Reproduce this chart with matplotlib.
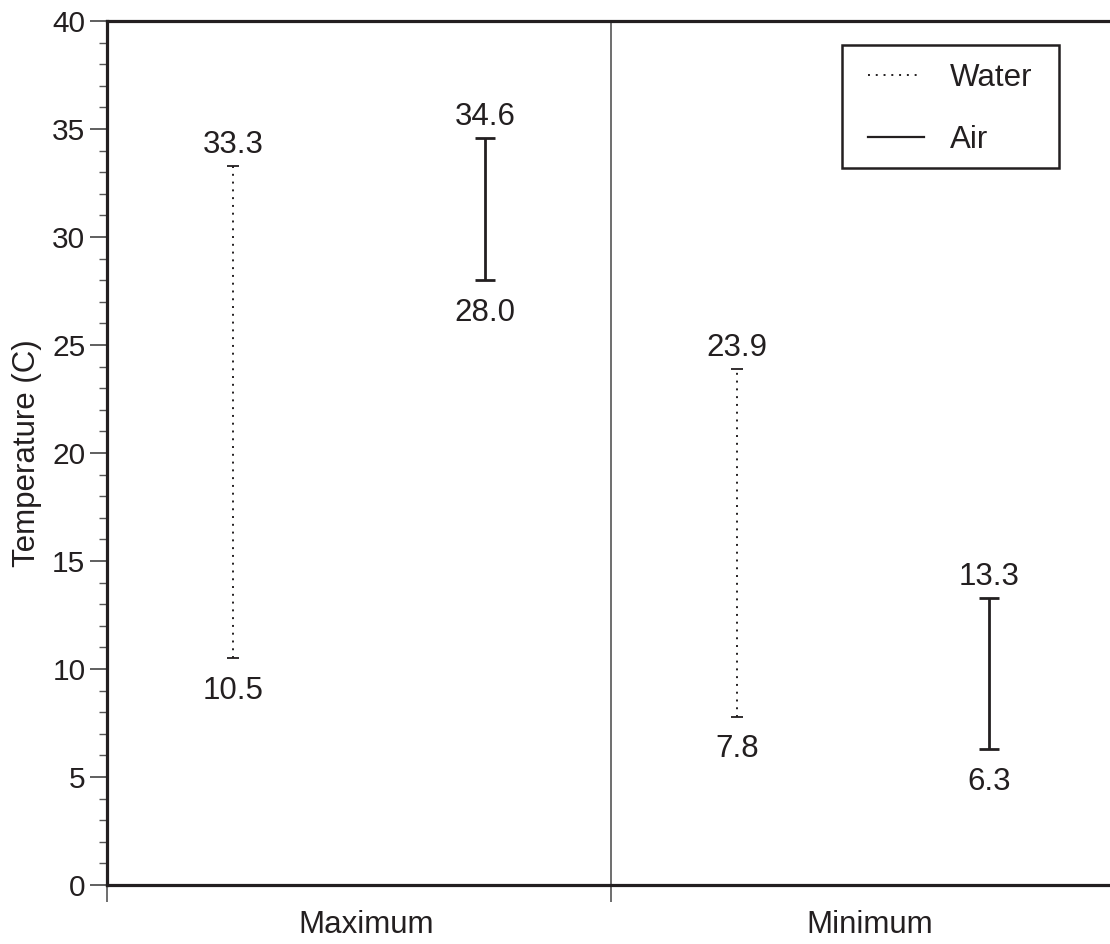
import matplotlib
matplotlib.use("Agg")
import matplotlib.pyplot as plt
from matplotlib.lines import Line2D
from matplotlib.patches import Rectangle
from matplotlib.transforms import ScaledTranslation
from matplotlib.ticker import MultipleLocator, FixedLocator, FixedFormatter, NullFormatter

plt.rcParams['font.family'] = ['Liberation Sans', 'DejaVu Sans']

groups = ["Maximum", "Minimum"]
series = ["Water", "Air"]
water_low = [10.5, 7.8]
water_high = [33.3, 23.9]
air_low = [28.0, 6.3]
air_high = [34.6, 13.3]

W, H = 1110, 944
AX_L, AX_B, AX_W, AX_H = 107, 59, 1008, 864
fig = plt.figure(figsize=(W / 100, H / 100), dpi=100)
ax = fig.add_axes([AX_L / W, AX_B / H, AX_W / W, AX_H / H])
ax.set_xlim(0, 2)
ax.set_ylim(0, 40)

fs = 22.5
col = "#231f20"
dotted = (0, (1.0, 3.0))

def draw(xs, lows, highs, ls, lw, cap, capw):
    for x, lo, hi in zip(xs, lows, highs):
        mid = (lo + hi) / 2
        eb = ax.errorbar([x], [mid], yerr=[[mid - lo], [hi - mid]], fmt='none',
                         ecolor=col, elinewidth=lw, capsize=cap, capthick=capw)
        for lc in eb[2]:
            lc.set_linestyle(ls)
        ax.annotate(f"{hi:.1f}", (x, hi), xytext=(0, 9.4), textcoords='offset points',
                    ha='center', va='baseline', fontsize=fs, color=col)
        ax.annotate(f"{lo:.1f}", (x, lo), xytext=(0, -29.5), textcoords='offset points',
                    ha='center', va='baseline', fontsize=fs, color=col)

wx = [i + 0.25 for i in range(len(groups))]
axx = [i + 0.75 for i in range(len(groups))]
draw(wx, water_low, water_high, dotted, 1.4, 4.3, 1.3)
draw(axx, air_low, air_high, '-', 2.0, 7, 2.0)

# separator between groups
ax.axvline(1, color='#555555', lw=1.2, zorder=0)

for s in ['left', 'bottom', 'top']:
    ax.spines[s].set_linewidth(2.3)
    ax.spines[s].set_color(col)
ax.spines['right'].set_visible(False)

ax.yaxis.set_major_locator(MultipleLocator(5))
ax.yaxis.set_minor_locator(MultipleLocator(1))
ax.tick_params(axis='y', which='major', length=12, width=1.2, labelsize=fs - 1, direction='out',
               color='#444444', labelcolor=col, pad=3.5)
ax.tick_params(axis='y', which='minor', length=6, width=1.0, direction='out', color='#555555')

ax.xaxis.set_major_locator(FixedLocator([0, 1, 2]))
ax.xaxis.set_major_formatter(NullFormatter())
ax.xaxis.set_minor_locator(FixedLocator([i + 0.5 for i in range(len(groups))]))
ax.xaxis.set_minor_formatter(FixedFormatter(groups))
ax.tick_params(axis='x', which='major', length=12, width=1.2, color='#555555')
ax.tick_params(axis='x', which='minor', length=0, labelsize=fs, pad=18, labelcolor=col)
shift = ScaledTranslation(7 / 100, 0, fig.dpi_scale_trans)
for t in ax.xaxis.get_minor_ticks():
    t.label1.set_transform(t.label1.get_transform() + shift)

ax.set_ylabel("Temperature (C)", fontsize=fs, color=col)
ax.yaxis.set_label_coords((42 - AX_L) / AX_W, 0.5)

# legend drawn in axes coordinates (pixel positions measured from top-left)
def axc(px, py):
    return (px - AX_L) / AX_W, (H - AX_B - py) / AX_H

x0, y0 = axc(842, 168)
x1, y1 = axc(1059, 45)
ax.add_patch(Rectangle((x0, y0), x1 - x0, y1 - y0, transform=ax.transAxes,
                       facecolor='white', edgecolor=col, lw=1.8, zorder=5, clip_on=False))
leg_rows = [(series[0], dotted, 1.4, 868, 919, 75), (series[1], '-', 1.6, 868, 924, 137)]
for name, ls, lw, lx0, lx1, ly in leg_rows:
    a0 = axc(lx0, ly)
    a1 = axc(lx1, ly)
    ax.add_line(Line2D([a0[0], a1[0]], [a0[1], a1[1]], transform=ax.transAxes,
                       color=col, ls=ls, lw=lw, zorder=6, clip_on=False))
    tx = axc(950, ly)
    ax.text(tx[0], tx[1], name, transform=ax.transAxes, fontsize=fs, color=col,
            ha='left', va='center_baseline', zorder=6)

fig.savefig("out.png", dpi=100)
